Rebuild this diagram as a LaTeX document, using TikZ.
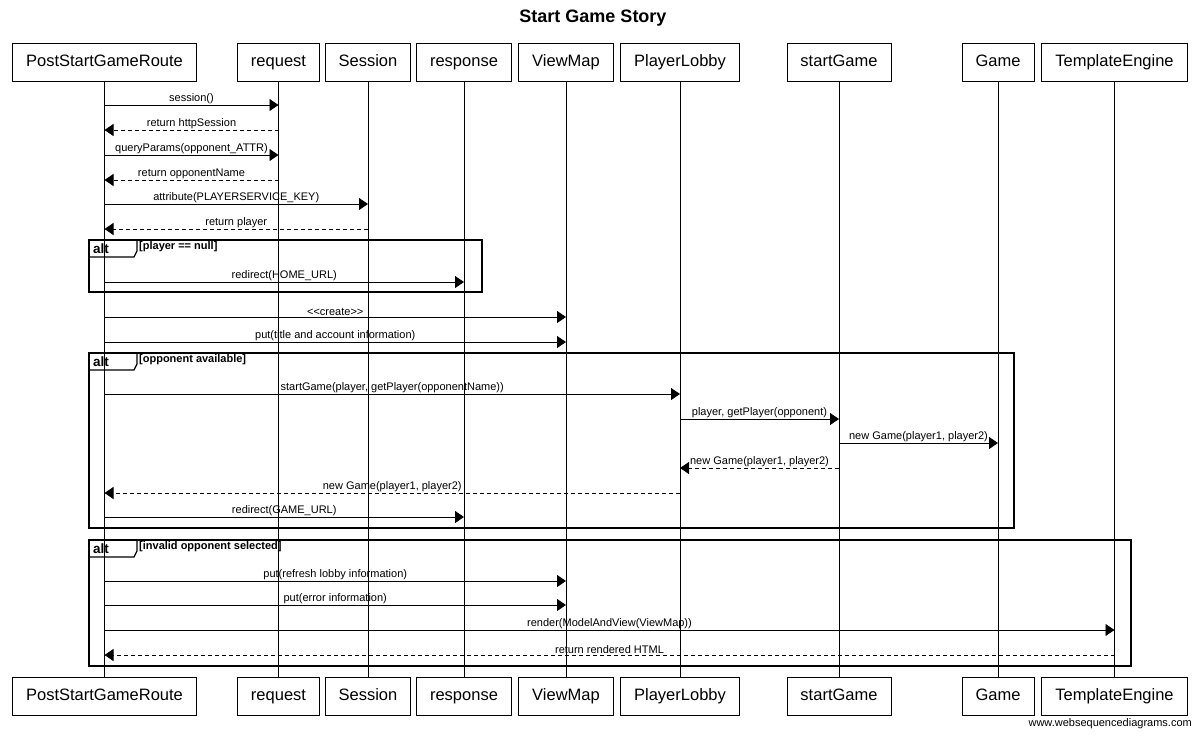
\documentclass[tikz,border=0pt]{standalone}
\usepackage{fontspec}
\setmainfont{Liberation Sans}
\usetikzlibrary{arrows.meta, positioning}

\tikzset{
  actor/.style={draw, line width=0.8pt, minimum height=38pt, inner xsep=13.5pt,
    text height=12pt, text depth=3.5pt, font=\fontsize{16.5}{18}\selectfont},
  life/.style={line width=0.8pt},
  msg/.style={line width=0.9pt, -{Triangle[length=9pt,width=12pt]}},
  reply/.style={msg, dash pattern=on 4pt off 3pt},
  lbl/.style={above, inner sep=0.5pt, font=\fontsize{11}{12}\selectfont},
  altframe/.style={line width=1.6pt},
  alttab/.style={line width=1.3pt},
  altword/.style={anchor=west, inner sep=0pt, font=\fontsize{13.5}{14}\selectfont\bfseries},
  guard/.style={anchor=north west, inner sep=1pt, font=\fontsize{11}{12}\selectfont\bfseries}
}

\begin{document}
\begin{tikzpicture}[x=1pt, y=-1pt]

    % Bounding box
    \useasboundingbox (0,0) rectangle (1200,737);

    % Title
    \node[font=\fontsize{18}{20}\selectfont\bfseries] (title) at (593,18) {Start Game Story};

    % Participants, top row
    \node[actor] (routeT) at (104.5,62) {PostStartGameRoute};
    \node[actor] (requestT) at (278.5,62) {request};
    \node[actor] (sessionT) at (368,62) {Session};
    \node[actor] (responseT) at (464,62) {response};
    \node[actor] (viewmapT) at (566,62) {ViewMap};
    \node[actor] (lobbyT) at (680,62) {PlayerLobby};
    \node[actor] (startgameT) at (839,62) {startGame};
    \node[actor] (gameT) at (998,62) {Game};
    \node[actor] (engineT) at (1114.5,62) {TemplateEngine};

    % Participants, bottom row
    \node[actor] (routeB) at (104.5,696) {PostStartGameRoute};
    \node[actor] (requestB) at (278.5,696) {request};
    \node[actor] (sessionB) at (368,696) {Session};
    \node[actor] (responseB) at (464,696) {response};
    \node[actor] (viewmapB) at (566,696) {ViewMap};
    \node[actor] (lobbyB) at (680,696) {PlayerLobby};
    \node[actor] (startgameB) at (839,696) {startGame};
    \node[actor] (gameB) at (998,696) {Game};
    \node[actor] (engineB) at (1114.5,696) {TemplateEngine};

    % Lifelines
    \draw[life] (routeT) -- (routeB);
    \draw[life] (requestT) -- (requestB);
    \draw[life] (sessionT) -- (sessionB);
    \draw[life] (responseT) -- (responseB);
    \draw[life] (viewmapT) -- (viewmapB);
    \draw[life] (lobbyT) -- (lobbyB);
    \draw[life] (startgameT) -- (startgameB);
    \draw[life] (gameT) -- (gameB);
    \draw[life] (engineT) -- (engineB);

    % Session and request lookups
    \draw[msg] (routeT |- 0,105) -- node[lbl] {session()} (requestT |- 0,105);
    \draw[reply] (requestT |- 0,130) -- node[lbl] {return httpSession} (routeT |- 0,130);
    \draw[msg] (routeT |- 0,155) -- node[lbl] {queryParams(opponent\_ATTR)} (requestT |- 0,155);
    \draw[reply] (requestT |- 0,180) -- node[lbl] {return opponentName} (routeT |- 0,180);
    \draw[msg] (routeT |- 0,204) -- node[lbl] {attribute(PLAYERSERVICE\_KEY)} (sessionT |- 0,204);
    \draw[reply] (sessionT |- 0,229) -- node[lbl] {return player} (routeT |- 0,229);

    % alt: player == null
    \draw[altframe] (89,240) rectangle (482,292);
    \draw[alttab] (89,257) -- (134,257) -- (137,251) -- (137,240);
    \node[altword] (alt1) at (93,249) {alt};
    \node[guard] (guard1) at (138,240.5) {[player == null]};
    \draw[msg] (routeT |- 0,282) -- node[lbl] {redirect(HOME\_URL)} (responseT |- 0,282);

    % ViewMap
    \draw[msg] (routeT |- 0,317) -- node[lbl] {<\kern0pt<create>\kern0pt>} (viewmapT |- 0,317);
    \draw[msg] (routeT |- 0,342) -- node[lbl] {put(title and account information)} (viewmapT |- 0,342);

    % alt: opponent available
    \draw[altframe] (89,353) rectangle (1014,528);
    \draw[alttab] (89,370) -- (134,370) -- (137,364) -- (137,353);
    \node[altword] (alt2) at (93,362) {alt};
    \node[guard] (guard2) at (138,353.5) {[opponent available]};
    \draw[msg] (routeT |- 0,394) -- node[lbl] {startGame(player, getPlayer(opponentName))} (lobbyT |- 0,394);
    \draw[msg] (lobbyT |- 0,419) -- node[lbl] {player, getPlayer(opponent)} (startgameT |- 0,419);
    \draw[msg] (startgameT |- 0,443) -- node[lbl] {new Game(player1, player2)} (gameT |- 0,443);
    \draw[reply] (startgameT |- 0,468) -- node[lbl] {new Game(player1, player2)} (lobbyT |- 0,468);
    \draw[reply] (lobbyT |- 0,493) -- node[lbl] {new Game(player1, player2)} (routeT |- 0,493);
    \draw[msg] (routeT |- 0,517) -- node[lbl] {redirect(GAME\_URL)} (responseT |- 0,517);

    % alt: invalid opponent selected
    \draw[altframe] (89,540) rectangle (1131,666);
    \draw[alttab] (89,557) -- (134,557) -- (137,551) -- (137,540);
    \node[altword] (alt3) at (93,549) {alt};
    \node[guard] (guard3) at (138,540.5) {[invalid opponent selected]};
    \draw[msg] (routeT |- 0,581) -- node[lbl] {put(refresh lobby information)} (viewmapT |- 0,581);
    \draw[msg] (routeT |- 0,605) -- node[lbl] {put(error information)} (viewmapT |- 0,605);
    \draw[msg] (routeT |- 0,630) -- node[lbl] {render(ModelAndView(ViewMap))} (engineT |- 0,630);
    \draw[reply] (engineT |- 0,655) -- node[lbl] {return rendered HTML} (routeT |- 0,655);

    % Footer
    \node[anchor=east, inner sep=0pt, font=\fontsize{11}{12}\selectfont] (footer) at (1192,724) {www.websequencediagrams.com};

\end{tikzpicture}
\end{document}
